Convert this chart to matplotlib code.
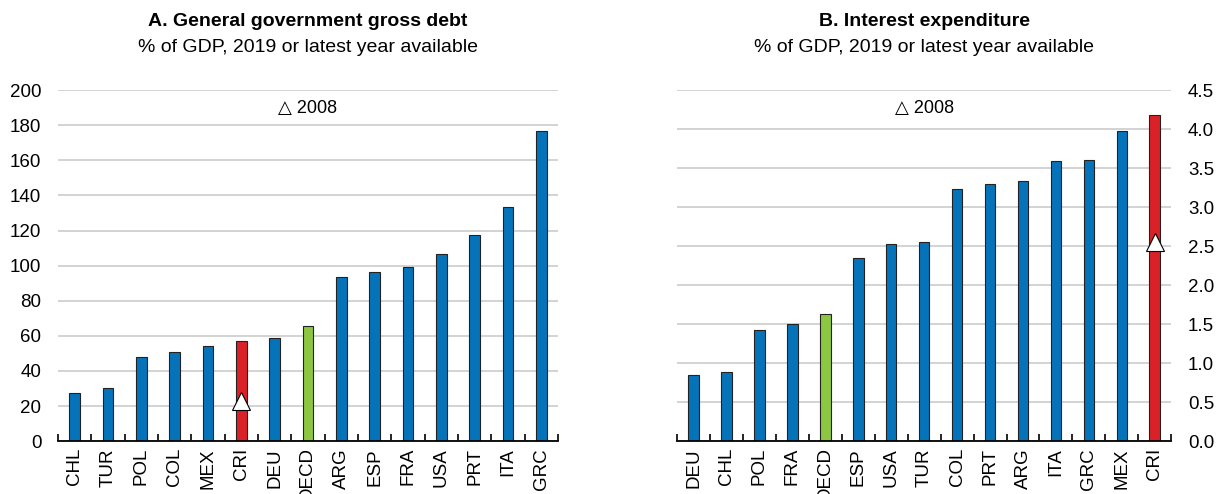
import matplotlib.pyplot as plt
import numpy as np

plt.rcParams['font.family'] = ['Liberation Sans', 'DejaVu Sans']

# Panel A: gross debt
debt_cty = ['CHL', 'TUR', 'POL', 'COL', 'MEX', 'CRI', 'DEU', 'OECD', 'ARG', 'ESP', 'FRA', 'USA', 'PRT', 'ITA', 'GRC']
debt_val = [27.5, 30, 48, 51, 54, 57, 58.5, 65.5, 93.5, 96.5, 99.5, 106.5, 117.5, 133.5, 177]
debt_2008 = {'CRI': 23}

# Panel B: interest expenditure
int_cty = ['DEU', 'CHL', 'POL', 'FRA', 'OECD', 'ESP', 'USA', 'TUR', 'COL', 'PRT', 'ARG', 'ITA', 'GRC', 'MEX', 'CRI']
int_val = [0.85, 0.89, 1.42, 1.50, 1.63, 2.35, 2.53, 2.55, 3.23, 3.30, 3.34, 3.59, 3.61, 3.97, 4.18]
int_2008 = {'CRI': 2.55}

BLUE = '#0573BA'
RED = '#DA2128'
GREEN = '#8DC63F'


def colours(cty):
    return [RED if c == 'CRI' else GREEN if c == 'OECD' else BLUE for c in cty]


def panel(ax, cty, vals, mark, ymax, step, title, right=False):
    x = np.arange(len(cty))
    ax.bar(x, vals, width=0.32, color=colours(cty), edgecolor='#222222', linewidth=0.8, zorder=3)
    for c, v in mark.items():
        ax.plot(cty.index(c), v, marker='^', markersize=13, color='white',
                markeredgecolor='black', markeredgewidth=0.8, zorder=4)
    ax.set_xlim(-0.5, len(cty) - 0.5)
    ax.set_ylim(0, ymax)
    ax.set_yticks(np.arange(0, ymax + step / 2, step))
    if step < 1:
        ax.set_yticklabels([f'{t:.1f}' for t in ax.get_yticks()])
    ax.set_xticks(x)
    ax.set_xticklabels(cty, rotation=90, fontsize=13.5)
    ax.set_xticks(np.arange(-0.5, len(cty)), minor=True)
    ax.tick_params(axis='x', which='major', length=0, pad=5)
    ax.tick_params(axis='x', which='minor', length=5, width=1.2, direction='in')
    ax.tick_params(axis='y', length=0, labelsize=13.5, pad=12)
    if right:
        ax.yaxis.tick_right()
    ax.grid(axis='y', color='#d0d0d0', linewidth=1.3, zorder=0)
    for s in ['top', 'left', 'right']:
        ax.spines[s].set_visible(False)
    ax.spines['bottom'].set_linewidth(1.3)
    ax.spines['bottom'].set_zorder(5)
    ax.text(0.5, 1.197, title[0], transform=ax.transAxes, ha='center', va='center',
            fontsize=14, fontweight='bold')
    ax.text(0.5, 1.122, title[1], transform=ax.transAxes, ha='center', va='center', fontsize=14)
    ax.text(0.5, 0.949, '\u25b3 2008', transform=ax.transAxes, ha='center', va='center', fontsize=13)


fig = plt.figure(figsize=(12.2, 4.94), dpi=100)
ax1 = fig.add_axes([0.0475, 0.107, 0.41, 0.7105])
ax2 = fig.add_axes([0.555, 0.107, 0.405, 0.7105])

panel(ax1, debt_cty, debt_val, debt_2008, 200, 20,
      ('A. General government gross debt', '% of GDP, 2019 or latest year available'))
panel(ax2, int_cty, int_val, int_2008, 4.5, 0.5,
      ('B. Interest expenditure', '% of GDP, 2019 or latest year available'), right=True)

fig.savefig('out.png', dpi=100)
